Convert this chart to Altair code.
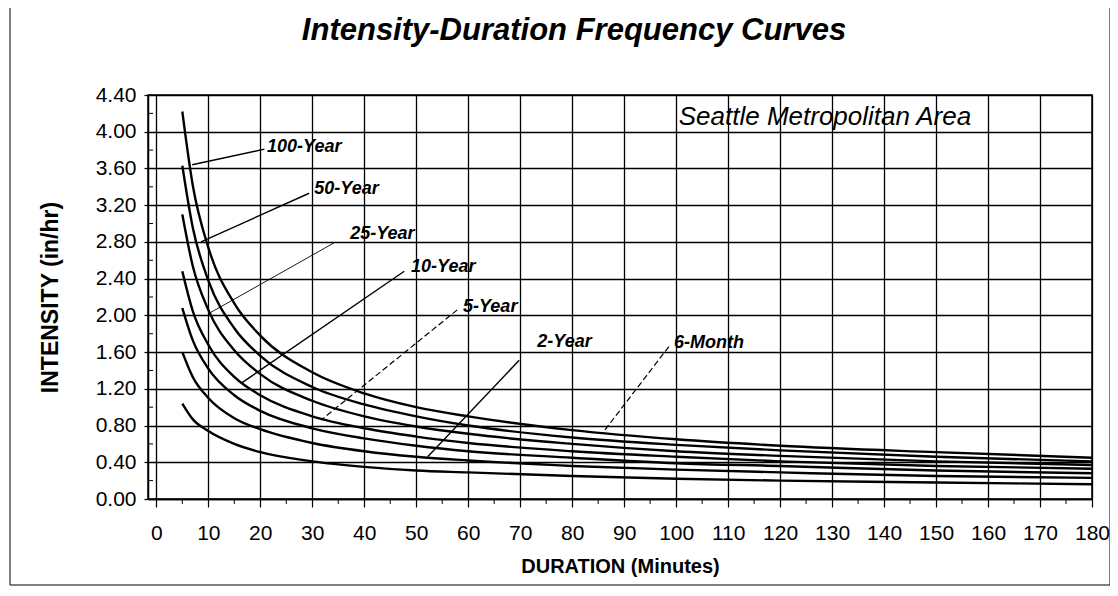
import altair as alt
import pandas as pd

# ---------------- data ----------------
durations = [5, 7, 10, 15, 20, 30, 40, 50, 60, 80, 100, 120, 150, 180]
i_100yr = [4.22, 3.42, 2.74, 2.13, 1.78, 1.38, 1.15, 1.00, 0.90, 0.75, 0.65, 0.58, 0.51, 0.45]
i_50yr = [3.63, 2.96, 2.38, 1.86, 1.56, 1.22, 1.03, 0.90, 0.80, 0.67, 0.59, 0.53, 0.46, 0.41]
i_25yr = [3.10, 2.54, 2.06, 1.62, 1.36, 1.07, 0.90, 0.79, 0.71, 0.60, 0.52, 0.47, 0.41, 0.37]
i_10yr = [2.48, 2.05, 1.68, 1.33, 1.13, 0.90, 0.77, 0.68, 0.61, 0.52, 0.46, 0.41, 0.36, 0.33]
i_5yr = [2.08, 1.73, 1.42, 1.13, 0.96, 0.77, 0.66, 0.58, 0.52, 0.45, 0.39, 0.36, 0.31, 0.28]
i_2yr = [1.60, 1.33, 1.10, 0.88, 0.76, 0.61, 0.52, 0.46, 0.42, 0.36, 0.32, 0.29, 0.25, 0.23]
i_6mo = [1.04, 0.87, 0.74, 0.60, 0.51, 0.41, 0.35, 0.31, 0.29, 0.25, 0.22, 0.20, 0.18, 0.16]

series_names = ["100-Year", "50-Year", "25-Year", "10-Year", "5-Year", "2-Year", "6-Month"]
series_values = [i_100yr, i_50yr, i_25yr, i_10yr, i_5yr, i_2yr, i_6mo]

# label text positions (duration, intensity) and leader lines
label_x = [21.3, 30.4, 37.3, 49.0, 59.0, 73.3, 99.6]
label_y = [3.83, 3.38, 2.89, 2.53, 2.09, 1.71, 1.70]
leader_x1 = [20.8, 29.4, 34.2, 47.7, 57.9, 69.8, 98.6]
leader_y1 = [3.81, 3.33, 2.79, 2.48, 2.06, 1.51, 1.66]
leader_x2 = [6.9, 8.6, 10.1, 16.3, 31.7, 52.2, 86.0]
leader_y2 = [3.64, 2.80, 2.02, 1.26, 0.86, 0.46, 0.73]
leader_style = ["solid", "solid", "thin", "solid", "dashed", "solid", "dashed"]

x_ticks = list(range(0, 181, 10))
x_minor = list(range(5, 180, 10))
y_ticks = [0.0, 0.4, 0.8, 1.2, 1.6, 2.0, 2.4, 2.8, 3.2, 3.6, 4.0, 4.4]
y_minor = [0.2, 0.6, 1.0, 1.4, 1.8, 2.2, 2.6, 3.0, 3.4, 3.8, 4.2]

title_text = "Intensity-Duration Frequency Curves"
area_text = "Seattle Metropolitan Area"
area_x = [100.5]
area_y = [4.16]

FONT = "Liberation Sans"

# ---------------- tables ----------------
rows = []
for name, vals in zip(series_names, series_values):
    for d, v in zip(durations, vals):
        rows.append({"series": name, "duration": d, "intensity": v})
curves_df = pd.DataFrame(rows)

labels_df = pd.DataFrame({
    "series": series_names, "lx": label_x, "ly": label_y,
    "x1": leader_x1, "y1": leader_y1, "x2": leader_x2, "y2": leader_y2,
    "style": leader_style,
})

xscale = alt.Scale(domain=[-1.6, 180], nice=False, zero=False)
yscale = alt.Scale(domain=[0, 4.4], nice=False, zero=False)

x_axis = alt.Axis(
    values=x_ticks, grid=True, tickSize=8, labelFontSize=21, labelPadding=15,
    labelFont=FONT, title="DURATION (Minutes)", titleFont=FONT, titleFontSize=20,
    titleFontWeight="bold", titleX=472, titleY=67, titleAlign="center",
    titleBaseline="middle", labelFlush=False)
y_axis = alt.Axis(
    values=y_ticks, format=".2f", grid=True, tickSize=4, labelFontSize=21,
    labelPadding=8, labelFont=FONT, title="INTENSITY (in/hr)", titleFont=FONT,
    titleFontSize=23, titleFontWeight="bold", titleAngle=270, titleX=-98,
    titleY=202, titleAlign="center", titleBaseline="middle")


def X(field):
    return alt.X(field, scale=xscale, axis=x_axis)


def Y(field):
    return alt.Y(field, scale=yscale, axis=y_axis)


curves = alt.Chart(curves_df).mark_line(
    interpolate="monotone", color="black", strokeWidth=2.4
).encode(
    x=X("duration:Q"), y=Y("intensity:Q"), detail="series:N",
)

leaders_solid = alt.Chart(labels_df).transform_filter(
    alt.datum.style == "solid"
).mark_rule(color="black", strokeWidth=1.4).encode(
    x=X("x1:Q"), y=Y("y1:Q"), x2="x2:Q", y2="y2:Q",
)
leaders_thin = alt.Chart(labels_df).transform_filter(
    alt.datum.style == "thin"
).mark_rule(color="black", strokeWidth=0.9).encode(
    x=X("x1:Q"), y=Y("y1:Q"), x2="x2:Q", y2="y2:Q",
)
leaders_dashed = alt.Chart(labels_df).transform_filter(
    alt.datum.style == "dashed"
).mark_rule(color="black", strokeWidth=1.2, strokeDash=[6, 3]).encode(
    x=X("x1:Q"), y=Y("y1:Q"), x2="x2:Q", y2="y2:Q",
)

labels = alt.Chart(labels_df).mark_text(
    align="left", baseline="middle", font=FONT, fontSize=18,
    fontWeight="bold", fontStyle="italic", color="black",
).encode(
    x=X("lx:Q"), y=Y("ly:Q"), text="series:N",
)

area_label = alt.Chart(pd.DataFrame({"x": area_x, "y": area_y, "t": [area_text]})).mark_text(
    align="left", baseline="middle", font=FONT, fontSize=26, fontStyle="italic",
    color="black",
).encode(
    x=X("x:Q"), y=Y("y:Q"), text="t:N",
)

xminor = alt.Chart(pd.DataFrame({"m": x_minor})).mark_rule(color="black", strokeWidth=1).encode(
    x=X("m:Q"), y=alt.value(404), y2=alt.value(409),
)
yminor = alt.Chart(pd.DataFrame({"m": y_minor})).mark_rule(color="black", strokeWidth=1).encode(
    y=Y("m:Q"), x=alt.value(0), x2=alt.value(5),
)

frame = alt.Chart(pd.DataFrame({"k": [0]})).mark_rect(
    fillOpacity=0, stroke="black", strokeWidth=1
).encode(
    x=alt.value(-138), x2=alt.value(962), y=alt.value(-93), y2=alt.value(490),
)

title = alt.Chart(pd.DataFrame({"t": [title_text]})).mark_text(
    align="center", baseline="alphabetic", font=FONT, fontSize=31,
    fontWeight="bold", fontStyle="italic", color="black",
).encode(
    x=alt.value(426), y=alt.value(-55), text="t:N",
)

chart = alt.layer(
    curves, leaders_solid, leaders_thin, leaders_dashed, labels, area_label,
    xminor, yminor, frame, title,
).properties(
    width=944,
    height=404,
    padding={"left": 140, "top": 87, "right": 18, "bottom": 88},
    autosize=alt.AutoSizeParams(type="none"),
    background="white",
).configure_axis(
    gridColor="black", gridWidth=1.3, gridOpacity=1,
    domainColor="black", domainWidth=1.5,
    tickColor="black", tickWidth=1.2,
    labelColor="black", titleColor="black",
).configure_view(
    stroke="black", strokeWidth=1.5,
)

chart.save("out.html", embed_options={"renderer": "svg", "actions": False})
